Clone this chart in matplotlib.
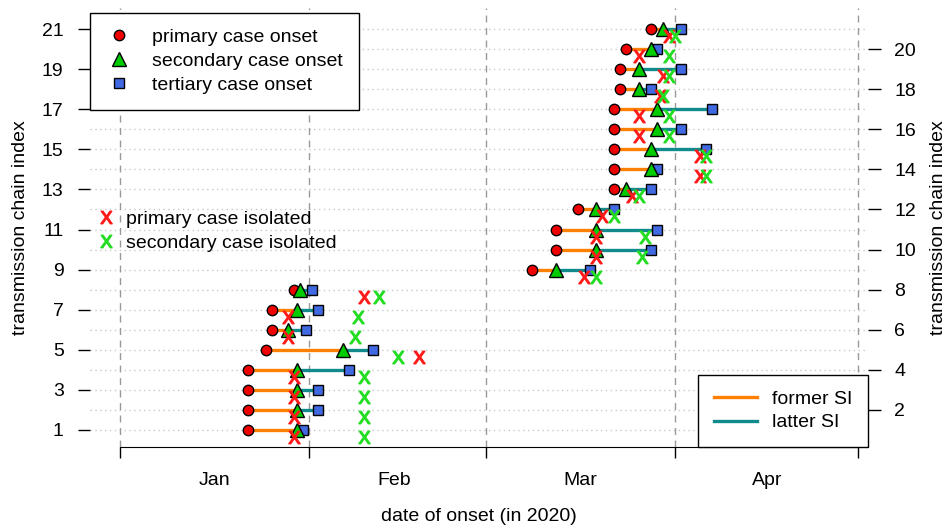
import numpy as np
import matplotlib
matplotlib.use("Agg")
import matplotlib.pyplot as plt
from matplotlib.lines import Line2D

plt.rcParams['font.family'] = ['Liberation Sans', 'DejaVu Sans']
plt.rcParams['font.size'] = 14
plt.rcParams['mathtext.fontset'] = 'custom'
plt.rcParams['mathtext.sf'] = 'Liberation Sans'

# days since 1 Jan 2020
chain = np.arange(1, 22)
primary_onset = [21, 21, 21, 21, 24, 25, 25, 28.5, 67.5, 71.5, 71.5, 75, 81, 81, 81, 81, 81, 82, 82, 83, 87]
secondary_onset = [29, 29, 29, 29, 36.5, 27.5, 29, 29.5, 71.5, 78, 78, 78, 83, 87, 87, 88, 88, 85, 85, 87, 89]
tertiary_onset = [30, 32.5, 32.5, 37.5, 41.5, 30.5, 32.5, 31.5, 77, 87, 88, 81, 87, 88, 96, 92, 97, 87, 92, 88, 92]
primary_isolated = [28.5, 28.5, 28.5, 28.5, 49, 27.5, 27.5, 40, 76, 78, 78, 79, 84, 95, 95, 85, 85, 88.5, 89, 85, 90]
secondary_isolated = [40, 40, 40, 40, 45.5, 38.5, 39, 42.5, 78, 85.5, 86, 81, 85, 96, 96, 90, 90, 89, 90, 90, 91]

month_starts = [0, 31, 60, 91, 121]
month_labels = ["Jan", "Feb", "Mar", "Apr"]

fig = plt.figure(figsize=(9.5, 5.29), dpi=100)
ax = fig.add_axes([90/950, 82/529, 778/950, 439/529])
ax.set_xlim(-4.9, 122.6)
ax.set_ylim(0.15, 22.05)

# grid
for i in chain:
    ax.axhline(i, color="#c8c8c8", lw=1, ls=(0, (1, 2.5)), zorder=0)
for m in month_starts:
    ax.axvline(m, color="#999999", lw=1, ls=(0, (5, 4)), zorder=0)

# serial interval segments
ax.hlines(chain, primary_onset, secondary_onset, color="#ff7f00", lw=2.4, zorder=2)
ax.hlines(chain, secondary_onset, tertiary_onset, color="#108a8a", lw=2.4, zorder=2)

ax.plot(primary_onset, chain, marker="o", ms=7.5, mfc="#ee0000", mec="black", mew=1, ls="none", zorder=3)
ax.plot(tertiary_onset, chain, marker="s", ms=7.5, mfc="#4169e1", mec="black", mew=1, ls="none", zorder=3)
ax.plot(secondary_onset, chain, marker="^", ms=10.5, mfc="#00cc00", mec="black", mew=1, ls="none", zorder=4)

xm = r"$\mathsf{X}$"
ax.plot(primary_isolated, chain - 0.35, marker=xm, ms=9, color="#ff1a1a", ls="none", zorder=5)
ax.plot(secondary_isolated, chain - 0.35, marker=xm, ms=9, color="#22dd22", ls="none", zorder=5)

# axes
for s in ["top", "right", "left"]:
    ax.spines[s].set_visible(False)
ax.spines["bottom"].set_bounds(0, 121)
ax.set_xticks(month_starts)
ax.set_xticklabels([])
ax.set_xticks([15.5, 45, 75.5, 106], minor=True)
ax.set_xticklabels(month_labels, minor=True)
ax.tick_params(axis="x", which="major", length=8, width=1)
ax.tick_params(axis="x", which="minor", length=0, pad=18)
ax.set_xlabel("date of onset (in 2020)", labelpad=14)

ax.set_yticks(np.arange(1, 22, 2))
ax.tick_params(axis="y", length=9, width=1, pad=10)
ax.set_ylabel("transmission chain index", labelpad=9)

ax2 = ax.twinx()
ax2.set_ylim(ax.get_ylim())
for s in ax2.spines.values():
    s.set_visible(False)
ax2.set_yticks(np.arange(2, 21, 2))
ax2.tick_params(axis="y", length=9, width=1, pad=10)
ax2.set_ylabel("transmission chain index", labelpad=10)

# legends
h1 = [Line2D([], [], marker="o", ms=7.5, mfc="#ee0000", mec="black", ls="none"),
      Line2D([], [], marker="^", ms=10.5, mfc="#00cc00", mec="black", ls="none"),
      Line2D([], [], marker="s", ms=7.5, mfc="#4169e1", mec="black", ls="none")]
leg1 = ax2.legend(h1, ["primary case onset", "secondary case onset", "tertiary case onset"],
                  loc="upper left", bbox_to_anchor=(0, 0.989), borderaxespad=0,
                  fancybox=False, edgecolor="black", framealpha=1, handlelength=1.4,
                  handletextpad=1.0, labelspacing=0.33, borderpad=0.8)
leg1.get_frame().set_linewidth(1)
ax2.add_artist(leg1)

h2 = [Line2D([], [], marker=xm, ms=9, color="#ff1a1a", ls="none"),
      Line2D([], [], marker=xm, ms=9, color="#22dd22", ls="none")]
leg2 = ax2.legend(h2, ["primary case isolated", "secondary case isolated"],
                  loc="center left", bbox_to_anchor=(-0.003, (447 - 231) / 439), borderaxespad=0,
                  frameon=False, handlelength=1.1, handletextpad=0.45, labelspacing=0.33)
ax2.add_artist(leg2)

h3 = [Line2D([], [], color="#ff7f00", lw=2.4), Line2D([], [], color="#108a8a", lw=2.4)]
leg3 = ax2.legend(h3, ["former SI", "latter SI"], loc="lower right", bbox_to_anchor=(1, 0),
                  borderaxespad=0, fancybox=False, edgecolor="black", framealpha=1,
                  handlelength=2.2, handletextpad=0.8, labelspacing=0.3, borderpad=0.8)
leg3.get_frame().set_linewidth(1)

fig.savefig("out.png", dpi=100)
